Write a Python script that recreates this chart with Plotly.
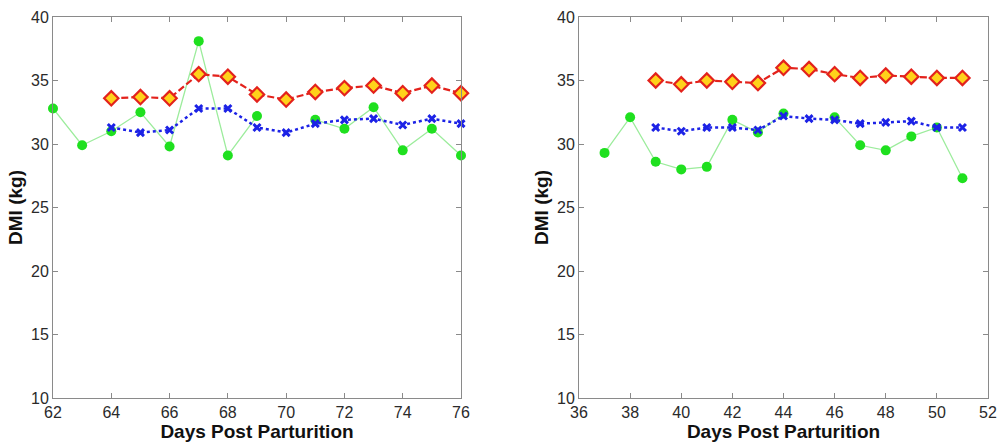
import plotly.graph_objects as go

# ---- Left panel data ----
days_left = [62, 63, 64, 65, 66, 67, 68, 69, 70, 71, 72, 73, 74, 75, 76]
green_left = [32.8, 29.9, 31.0, 32.5, 29.8, 38.1, 29.1, 32.2, None, 31.9, 31.2, 32.9, 29.5, 31.2, 29.1]
red_left = [None, None, 33.6, 33.7, 33.6, 35.5, 35.3, 33.9, 33.5, 34.1, 34.4, 34.6, 34.0, 34.6, 34.0]
blue_left = [None, None, 31.3, 30.9, 31.1, 32.8, 32.8, 31.3, 30.9, 31.6, 31.9, 32.0, 31.5, 32.0, 31.6]

# ---- Right panel data ----
days_right = [37, 38, 39, 40, 41, 42, 43, 44, 45, 46, 47, 48, 49, 50, 51]
green_right = [29.3, 32.1, 28.6, 28.0, 28.2, 31.9, 30.9, 32.4, None, 32.1, 29.9, 29.5, 30.6, 31.3, 27.3]
red_right = [None, None, 35.0, 34.7, 35.0, 34.9, 34.8, 36.0, 35.9, 35.5, 35.2, 35.4, 35.3, 35.2, 35.2]
blue_right = [None, None, 31.3, 31.0, 31.3, 31.3, 31.1, 32.2, 32.0, 31.9, 31.6, 31.7, 31.8, 31.3, 31.3]

x_ticks_left = [62, 64, 66, 68, 70, 72, 74, 76]
x_ticks_right = [36, 38, 40, 42, 44, 46, 48, 50, 52]
y_ticks = [10, 15, 20, 25, 30, 35, 40]

GREEN_LINE = "#9cec9c"
GREEN_MK = "#1fe01f"
RED = "#e3221c"
YELLOW = "#ffd21a"
BLUE = "#1c22e6"

fig = go.Figure()


def add_panel(x, g, r, b, xa, ya):
    fig.add_trace(go.Scatter(
        x=x, y=g, mode="lines+markers", xaxis=xa, yaxis=ya,
        line=dict(color=GREEN_LINE, width=1.3), connectgaps=False,
        marker=dict(symbol="circle", size=10, color=GREEN_MK, line=dict(width=0)),
        showlegend=False, cliponaxis=False))
    fig.add_trace(go.Scatter(
        x=x, y=b, mode="lines+markers", xaxis=xa, yaxis=ya,
        line=dict(color=BLUE, width=2.5, dash="dot"),
        marker=dict(symbol="x-thin", size=7, color=BLUE, line=dict(width=3, color=BLUE)),
        showlegend=False, cliponaxis=False))
    fig.add_trace(go.Scatter(
        x=x, y=r, mode="lines+markers", xaxis=xa, yaxis=ya,
        line=dict(color=RED, width=2.2, dash="7px,3px"),
        marker=dict(symbol="diamond", size=11, color=YELLOW, line=dict(width=2.2, color=RED)),
        showlegend=False, cliponaxis=False))


add_panel(days_left, green_left, red_left, blue_left, "x", "y")
add_panel(days_right, green_right, red_right, blue_right, "x2", "y2")

W, H = 997, 444
ydom = [1 - 398 / H, 1 - 17 / H]

axis_common = dict(
    showgrid=False, zeroline=False, showline=True, mirror="ticks",
    linecolor="#8a8a8a", linewidth=1, ticks="inside", ticklen=5,
    tickcolor="#8a8a8a", tickfont=dict(family="Liberation Sans, Arial", size=16, color="#2a2a2a"),
    automargin=False,
)
title_font = dict(family="Liberation Sans, Arial", size=19, color="#111")

fig.update_layout(
    width=W, height=H,
    margin=dict(l=0, r=0, t=0, b=0),
    paper_bgcolor="white", plot_bgcolor="white",
    xaxis=dict(domain=[53 / W, 461 / W], range=[62, 76], tickvals=x_ticks_left,
               title=dict(text="<b>Days Post Parturition</b>", font=title_font, standoff=0),
               anchor="y", **axis_common),
    yaxis=dict(domain=ydom, range=[10, 40], tickvals=y_ticks,
               title=dict(text="<b>DMI (kg)</b>", font=title_font, standoff=3),
               anchor="x", **axis_common),
    xaxis2=dict(domain=[579 / W, 988 / W], range=[36, 52], tickvals=x_ticks_right,
                title=dict(text="<b>Days Post Parturition</b>", font=title_font, standoff=0),
                anchor="y2", **axis_common),
    yaxis2=dict(domain=ydom, range=[10, 40], tickvals=y_ticks,
                title=dict(text="<b>DMI (kg)</b>", font=title_font, standoff=3),
                anchor="x2", **axis_common),
)

fig.write_html("out.html", config={"displayModeBar": False},
               post_script="document.body.style.margin='0px';document.body.style.overflow='hidden';")
